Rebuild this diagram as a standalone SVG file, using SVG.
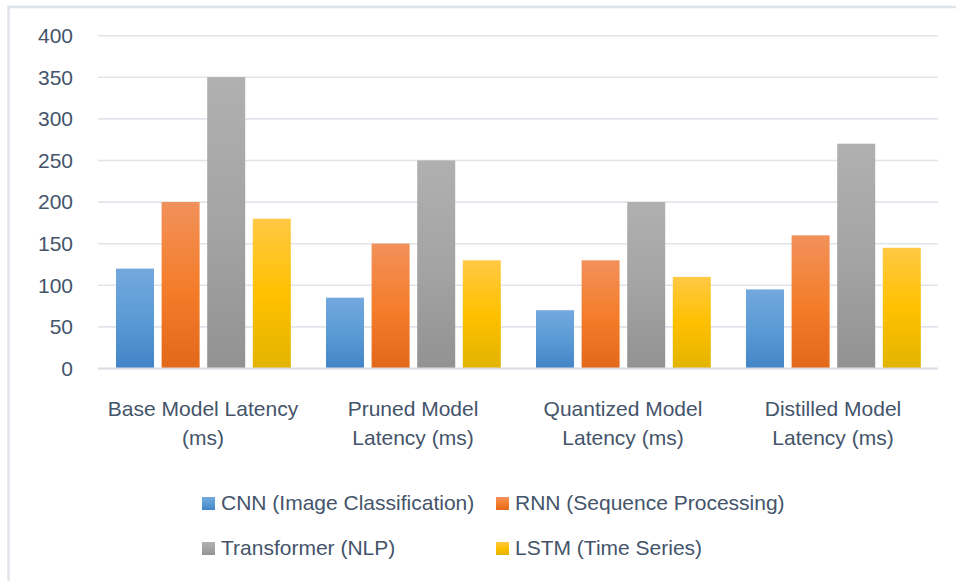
<svg xmlns="http://www.w3.org/2000/svg" width="956" height="581" viewBox="0 0 956 581">
<defs>
<style>
text{font-family:"Liberation Sans",Arial,sans-serif;font-size:21px;fill:#44546a}
.yl{text-anchor:end}
.cl{text-anchor:middle}
.grid{stroke:#e1e4ea;stroke-width:1.6}
</style>
<linearGradient id="gCNN" x1="0" y1="0" x2="0" y2="1"><stop offset="0" stop-color="#73a8de"/><stop offset="0.5" stop-color="#5b9bd5"/><stop offset="1" stop-color="#4384c7"/></linearGradient>
<linearGradient id="gRNN" x1="0" y1="0" x2="0" y2="1"><stop offset="0" stop-color="#f2915b"/><stop offset="0.5" stop-color="#f47e2c"/><stop offset="1" stop-color="#e2681a"/></linearGradient>
<linearGradient id="gTR" x1="0" y1="0" x2="0" y2="1"><stop offset="0" stop-color="#b0b0b0"/><stop offset="0.5" stop-color="#a4a4a4"/><stop offset="1" stop-color="#929292"/></linearGradient>
<linearGradient id="gLS" x1="0" y1="0" x2="0" y2="1"><stop offset="0" stop-color="#ffc944"/><stop offset="0.5" stop-color="#ffc000"/><stop offset="1" stop-color="#e2b400"/></linearGradient>
</defs>
<rect x="0" y="0" width="956" height="581" fill="#ffffff"/>
<path d="M8.5,581 V7 H956" fill="none" stroke="#dfe3ea" stroke-width="2.5"/>
<g id="gridlines">
<line class="grid" x1="98" y1="35.7" x2="938" y2="35.7"/>
<line class="grid" x1="98" y1="77.3" x2="938" y2="77.3"/>
<line class="grid" x1="98" y1="118.9" x2="938" y2="118.9"/>
<line class="grid" x1="98" y1="160.5" x2="938" y2="160.5"/>
<line class="grid" x1="98" y1="202.1" x2="938" y2="202.1"/>
<line class="grid" x1="98" y1="243.7" x2="938" y2="243.7"/>
<line class="grid" x1="98" y1="285.3" x2="938" y2="285.3"/>
<line class="grid" x1="98" y1="326.9" x2="938" y2="326.9"/>
</g>
<g id="y-axis">
<text class="yl" x="73" y="43">400</text>
<text class="yl" x="73" y="84.6">350</text>
<text class="yl" x="73" y="126.2">300</text>
<text class="yl" x="73" y="167.8">250</text>
<text class="yl" x="73" y="209.4">200</text>
<text class="yl" x="73" y="251">150</text>
<text class="yl" x="73" y="292.6">100</text>
<text class="yl" x="73" y="334.2">50</text>
<text class="yl" x="73" y="375.8">0</text>
</g>
<g id="bars-base">
<rect x="116" y="268.6" width="38" height="99.9" fill="url(#gCNN)"/>
<rect x="161.6" y="202" width="38" height="166.5" fill="url(#gRNN)"/>
<rect x="207.2" y="77.1" width="38" height="291.4" fill="url(#gTR)"/>
<rect x="252.8" y="218.7" width="38" height="149.8" fill="url(#gLS)"/>
</g>
<g id="bars-pruned">
<rect x="326" y="297.7" width="38" height="70.8" fill="url(#gCNN)"/>
<rect x="371.6" y="243.6" width="38" height="124.9" fill="url(#gRNN)"/>
<rect x="417.2" y="160.4" width="38" height="208.1" fill="url(#gTR)"/>
<rect x="462.8" y="260.3" width="38" height="108.2" fill="url(#gLS)"/>
</g>
<g id="bars-quantized">
<rect x="536" y="310.2" width="38" height="58.3" fill="url(#gCNN)"/>
<rect x="581.6" y="260.3" width="38" height="108.2" fill="url(#gRNN)"/>
<rect x="627.2" y="202" width="38" height="166.5" fill="url(#gTR)"/>
<rect x="672.8" y="276.9" width="38" height="91.6" fill="url(#gLS)"/>
</g>
<g id="bars-distilled">
<rect x="746" y="289.4" width="38" height="79.1" fill="url(#gCNN)"/>
<rect x="791.6" y="235.3" width="38" height="133.2" fill="url(#gRNN)"/>
<rect x="837.2" y="143.7" width="38" height="224.8" fill="url(#gTR)"/>
<rect x="882.8" y="247.8" width="38" height="120.7" fill="url(#gLS)"/>
</g>
<line id="baseline" x1="98" y1="368.5" x2="938" y2="368.5" stroke="#d9dde3" stroke-width="2"/>
<g id="x-axis">
<text class="cl" x="203" y="416">Base Model Latency</text>
<text class="cl" x="203" y="445">(ms)</text>
<text class="cl" x="413" y="416">Pruned Model</text>
<text class="cl" x="413" y="445">Latency (ms)</text>
<text class="cl" x="623" y="416">Quantized Model</text>
<text class="cl" x="623" y="445">Latency (ms)</text>
<text class="cl" x="833" y="416">Distilled Model</text>
<text class="cl" x="833" y="445">Latency (ms)</text>
</g>
<g id="legend">
<rect x="202" y="497" width="13" height="13" fill="url(#gCNN)"/>
<text x="221" y="510">CNN (Image Classification)</text>
<rect x="496" y="497" width="13" height="13" fill="url(#gRNN)"/>
<text x="515" y="510">RNN (Sequence Processing)</text>
<rect x="202" y="542" width="13" height="13" fill="url(#gTR)"/>
<text x="221" y="555">Transformer (NLP)</text>
<rect x="496" y="542" width="13" height="13" fill="url(#gLS)"/>
<text x="515" y="555">LSTM (Time Series)</text>
</g>
</svg>
